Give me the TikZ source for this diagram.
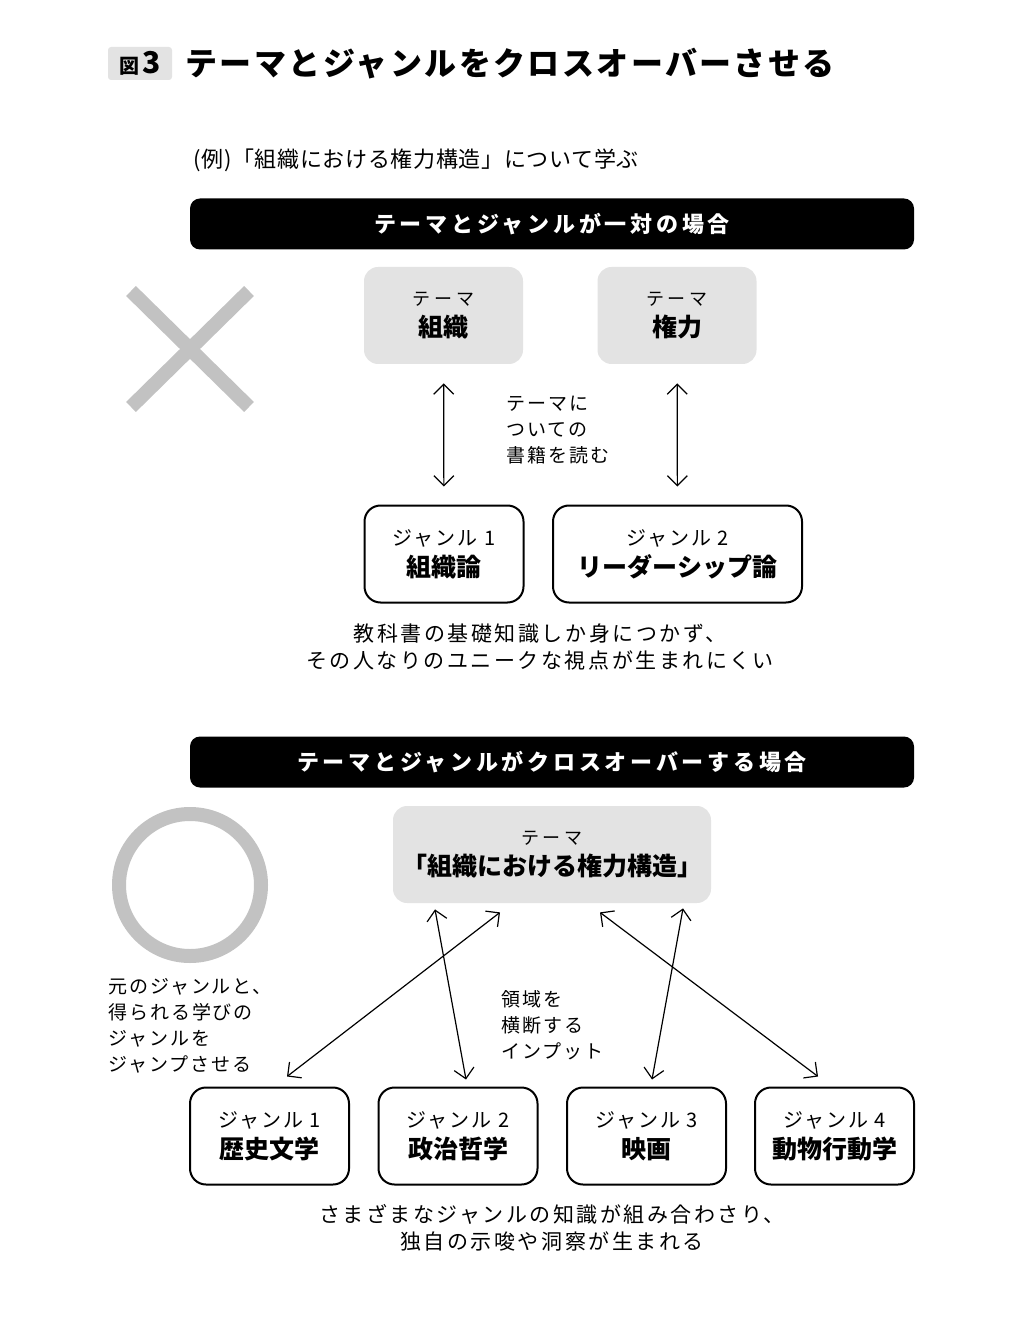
\documentclass[tikz,border=0pt]{standalone}
\usepackage{fontspec}
\setmainfont{Noto Sans CJK JP}
\usetikzlibrary{arrows.meta,calc}
\definecolor{boxgray}{gray}{0.89}
\definecolor{markgray}{gray}{0.76}
\newcommand\headfont{\fontsize{16}{20}\selectfont\bfseries\addfontfeatures{LetterSpace=7.5}}
\newcommand\barfont{\fontsize{11}{14}\selectfont\bfseries\addfontfeatures{LetterSpace=17}}
\newcommand\leadfont{\fontsize{11}{13}\selectfont\addfontfeatures{LetterSpace=3}}
\newcommand\bodyfont{\fontsize{10.5}{13.5}\selectfont\addfontfeatures{LetterSpace=12}}
\newcommand\notefont{\fontsize{9.5}{13}\selectfont\addfontfeatures{LetterSpace=10}}
\newcommand\tagfont{\fontsize{9}{12}\selectfont\mdseries\addfontfeatures{LetterSpace=22}}
\newcommand\genrefont{\fontsize{10}{12}\selectfont\mdseries\addfontfeatures{LetterSpace=10}}
\newcommand\namefont{\fontsize{12.5}{15.5}\selectfont\bfseries}
\begin{document}
\begin{tikzpicture}[x=0.5pt,y=-0.5pt,
				every node/.style={inner sep=0pt,align=center},
				themebox/.style={fill=boxgray,rounded corners=7pt,minimum width=79.5pt,minimum height=48.5pt,font=\namefont},
				genrebox/.style={draw,line width=1pt,rounded corners=8pt,minimum width=79.5pt,minimum height=48.5pt,font=\namefont},
				bar/.style={fill=black,rounded corners=5pt,minimum width=362pt,minimum height=25.5pt,text=white,font=\barfont},
				link/.style={{Straight Barb[length=5pt,width=10pt]}-{Straight Barb[length=5pt,width=10pt]},line width=0.6pt}]
\useasboundingbox (0,0) rectangle (1024,1325);
% heading
\node[fill=boxgray,rounded corners=1.5pt,minimum width=32pt,minimum height=16.5pt] (fig) at (140,63.5)
	{\fontsize{10}{11}\selectfont\bfseries 図\,\fontsize{15}{16}\selectfont 3};
\node[anchor=west,font=\headfont] (title) at (185,64) {テーマとジャンルをクロスオーバーさせる};
\node[anchor=west,font=\leadfont] (lead) at (193,160) {(例)「組織における権力構造」について学ぶ};
% one to one
\node[bar] (bar1) at (552,224) {テーマとジャンルが一対の場合};
\draw[markgray,line width=7pt] (131,291) -- (249,407) (249,291) -- (131,407);
\node[themebox] (topic1) at (443.5,315.5) {{\tagfont テーマ}\\組織};
\node[themebox] (topic2) at (677,315.5) {{\tagfont テーマ}\\権力};
\node[genrebox] (field1) at (444,554) {{\genrefont ジャンル 1}\\組織論};
\node[genrebox,minimum width=124.5pt] (field2) at (677.5,554) {{\genrefont ジャンル 2}\\リーダーシップ論};
\draw[link,shorten <=9.5pt,shorten >=9pt] (topic1) -- (field1);
\draw[link,shorten <=9.5pt,shorten >=9pt] (topic2) -- (field2);
\node[anchor=west,align=left,font=\notefont] (read) at (506,430.5) {テーマに\\ついての\\書籍を読む};
\node[font=\bodyfont] (result1) at (540,646.5) {教科書の基礎知識しか身につかず、\\その人なりのユニークな視点が生まれにくい};
% crossover
\node[bar] (bar2) at (552,762) {テーマとジャンルがクロスオーバーする場合};
\draw[markgray,line width=7pt] (190,885) circle (71);
\node[themebox,minimum width=159pt] (topic) at (552,854.5) {{\tagfont テーマ}\\「組織における権力構造」};
\node[genrebox] (g1) at (269.5,1136) {{\genrefont ジャンル 1}\\歴史文学};
\node[genrebox] (g2) at (458,1136) {{\genrefont ジャンル 2}\\政治哲学};
\node[genrebox] (g3) at (646.5,1136) {{\genrefont ジャンル 3}\\映画};
\node[genrebox] (g4) at (834.5,1136) {{\genrefont ジャンル 4}\\動物行動学};
\draw[link] ($(topic.south)+(-52,9)$) -- ($(g1.north)+(17.5,-10)$);
\draw[link] ($(topic.south)+(-117,6)$) -- ($(g2.north)+(8,-7)$);
\draw[link] ($(topic.south)+(131,5)$) -- ($(g3.north)+(5.5,-7)$);
\draw[link] ($(topic.south)+(48,9)$) -- ($(g4.north)+(-16.5,-10)$);
\node[anchor=west,align=left,font=\notefont] (jump) at (108,1026) {元のジャンルと、\\得られる学びの\\ジャンルを\\ジャンプさせる};
\node[anchor=west,align=left,font=\notefont] (cross) at (501,1025) {領域を\\横断する\\インプット};
\node[font=\bodyfont] (result2) at (552,1227.5) {さまざまなジャンルの知識が組み合わさり、\\独自の示唆や洞察が生まれる};
\end{tikzpicture}
\end{document}
